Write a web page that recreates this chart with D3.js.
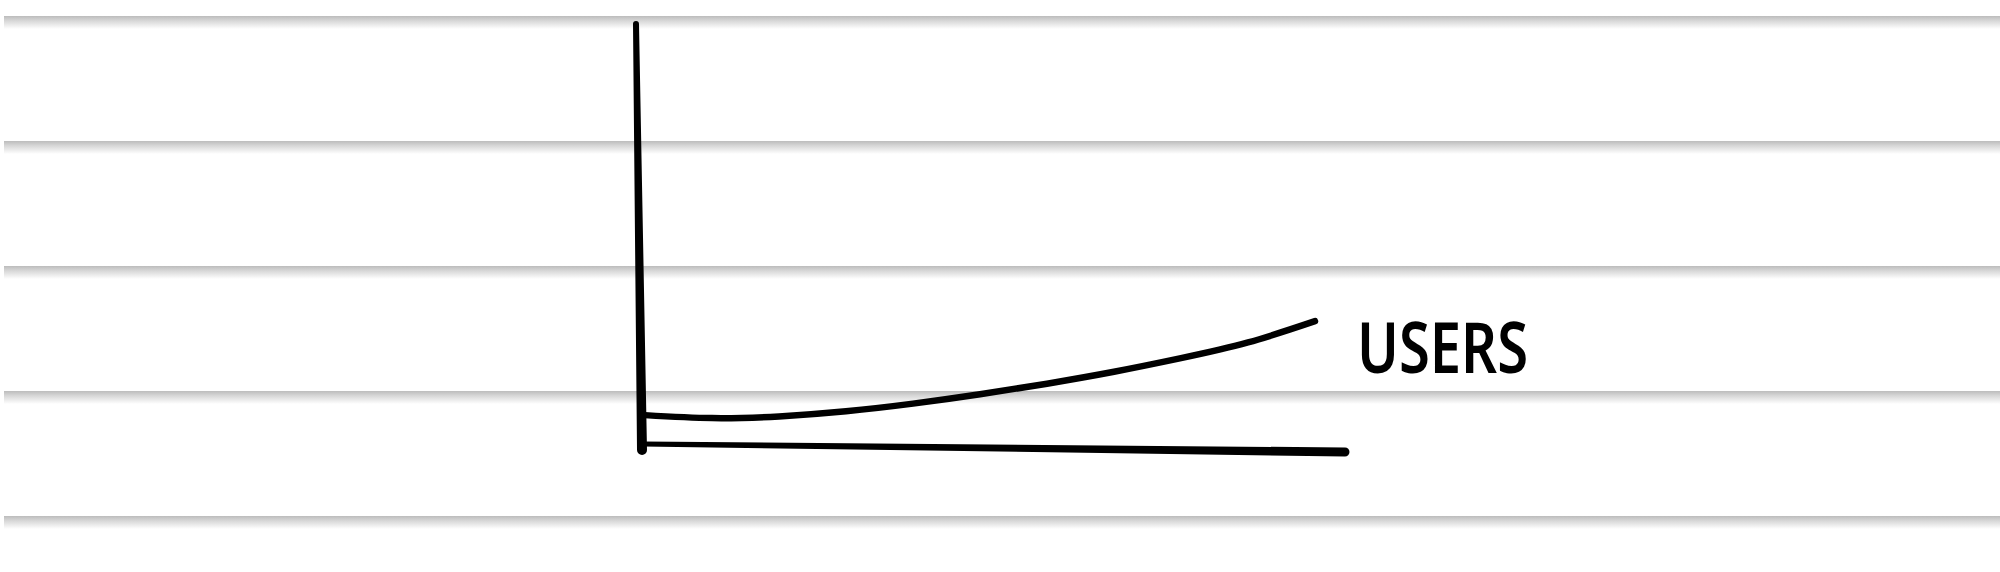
<!DOCTYPE html>
<html>
<head>
<meta charset="utf-8">
<script src="https://cdn.jsdelivr.net/npm/d3@7"></script>
<style>
  html, body { margin: 0; padding: 0; background: #ffffff; }
  svg { display: block; }
</style>
</head>
<body>
<svg id="chart" width="2000" height="572"></svg>
<script>
// ---- data ----
const steps = [0, 1, 2, 3, 4, 5, 6, 7, 8, 9, 10];
const users = [7.5, 6.8, 7.2, 8.4, 10.2, 12.4, 14.9, 17.7, 20.9, 24.6, 29.6];
const seriesLabel = "USERS";

// ---- layout ----
const W = 2000, H = 572;
const svg = d3.select("#chart");

// notebook-paper bands
const defs = svg.append("defs");
const grad = defs.append("linearGradient")
  .attr("id", "band").attr("x1", 0).attr("y1", 0).attr("x2", 0).attr("y2", 1);
grad.append("stop").attr("offset", "0%").attr("stop-color", "#bcbcbc");
grad.append("stop").attr("offset", "35%").attr("stop-color", "#d6d6d6");
grad.append("stop").attr("offset", "100%").attr("stop-color", "#ffffff");

const bandTops = d3.range(5).map(i => 16 + i * 125);
svg.selectAll("rect.band").data(bandTops).join("rect")
  .attr("class", "band")
  .attr("x", 4).attr("y", d => d)
  .attr("width", W - 4).attr("height", 13)
  .attr("fill", "url(#band)");

// scales
const x = d3.scaleLinear().domain([0, 10]).range([645, 1315]);
const y = d3.scaleLinear().domain([0, 100]).range([447, 22]);

// tapered hand-drawn stroke
function taper(x1, y1, x2, y2, w1, w2) {
  const dx = x2 - x1, dy = y2 - y1, L = Math.hypot(dx, dy);
  const nx = -dy / L, ny = dx / L;
  const r1 = w1 / 2, r2 = w2 / 2;
  return `M${x1 + nx * r1},${y1 + ny * r1}` +
    `L${x2 + nx * r2},${y2 + ny * r2}` +
    `A${r2},${r2} 0 0 0 ${x2 - nx * r2},${y2 - ny * r2}` +
    `L${x1 - nx * r1},${y1 - ny * r1}` +
    `A${r1},${r1} 0 0 0 ${x1 + nx * r1},${y1 + ny * r1}Z`;
}

const [d0, d1] = x.domain();
// y axis
svg.append("path")
  .attr("d", taper(x(d0) - 9, y(100) + 2, x(d0) - 3, y(0) + 3, 6, 10))
  .attr("fill", "#000");
// x axis
svg.append("path")
  .attr("d", taper(x(d0) - 2, y(0) - 3, x(d1) + 30, y(0) + 5, 5, 9))
  .attr("fill", "#000");

// users line
const line = d3.line()
  .x((d, i) => x(steps[i]))
  .y(d => y(d))
  .curve(d3.curveNatural);

svg.append("path")
  .datum(users)
  .attr("d", line)
  .attr("fill", "none")
  .attr("stroke", "#000")
  .attr("stroke-width", 6.5)
  .attr("stroke-linecap", "round");

// label
svg.append("text")
  .attr("x", x(d1) + 42)
  .attr("y", 373)
  .attr("font-family", "'Noto Sans', sans-serif")
  .attr("font-weight", 600)
  .attr("font-size", 70)
  .attr("fill", "#000")
  .attr("textLength", 171)
  .attr("lengthAdjust", "spacingAndGlyphs")
  .text(seriesLabel);
</script>
</body>
</html>
